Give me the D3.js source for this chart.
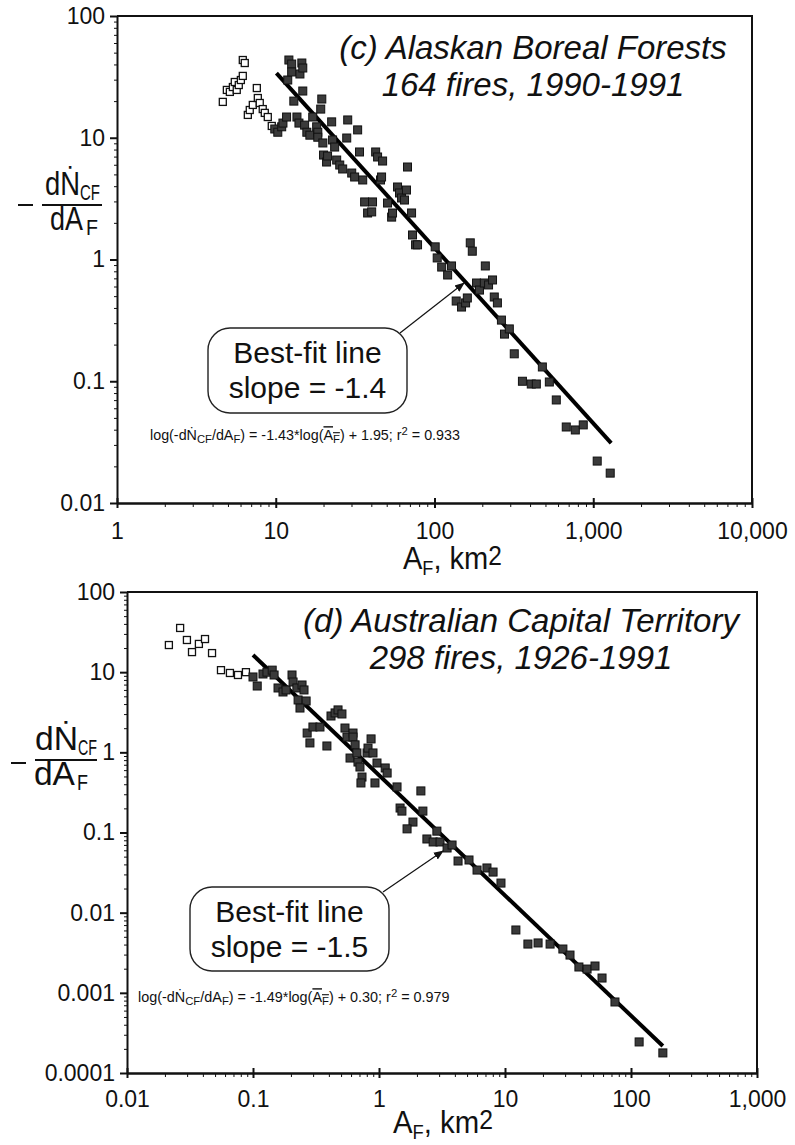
<!DOCTYPE html>
<html>
<head>
<meta charset="utf-8">
<script src="https://cdn.jsdelivr.net/npm/d3@7"></script>
<style>
    body { margin: 0; background: #fff; }
    svg text { font-family: Arial, "Liberation Sans", Helvetica, sans-serif; fill: #111; }
    .axis path, .axis line { stroke: #111; }
</style>
</head>
<body>
<svg id="FigSvg" width="795" height="1145"></svg>
<script>
// ---- panel (c): Alaskan boreal forests ----
var alaskaOpenX = [4.64, 4.92, 5.14, 5.37, 5.52, 5.68, 5.85, 6.03, 6.20, 6.20, 6.38, 6.67, 6.86, 7.17, 7.60, 7.71, 7.93, 8.28, 8.53, 8.91, 9.44]
var alaskaOpenY = [19.7, 24.7, 23.8, 26.1, 28.7, 24.7, 27.1, 29.8, 32.2, 43.5, 41.1, 15.4, 16.9, 18.6, 25.6, 21.2, 19.3, 17.2, 16.0, 14.8, 12.5]
var alaskaFillX = [9.86, 10.3, 10.9, 11.1, 11.7, 11.9, 12.1, 12.6, 12.6, 13.0, 13.6, 14.0, 14.2, 14.6, 14.8, 14.8, 15.2, 15.7, 16.4, 17.1,
    18.1, 18.4, 18.4, 19.2, 19.5, 19.8, 20.0, 20.9, 21.2, 22.5, 22.8, 23.5, 24.2, 25.3, 26.4, 28.0, 28.4, 30.1, 31.4, 32.8,
    33.7, 35.3, 36.3, 37.9, 40.2, 40.7, 42.6, 43.8, 45.7, 46.4, 47.1, 50.6, 53.7, 54.4, 58.5, 60.2, 62.0, 64.7, 66.6, 67.6,
    71.7, 72.7, 76.0, 78.2, 101, 104, 111, 121, 128, 137, 148, 157, 161, 168, 173, 184, 192, 206, 209, 219,
    232, 238, 249, 264, 276, 296, 318, 358, 407, 438, 478, 529, 585, 676, 771, 865, 1059, 1279]
var alaskaFillY = [11.8, 11.1, 12.3, 13.2, 14.8, 29.8, 43.5, 40.3, 34.7, 20.0, 14.8, 13.2, 33.4, 41.1, 37.4, 24.2, 12.7, 11.1, 10.5, 14.8,
    12.3, 11.1, 10.1, 17.2, 20.8, 9.06, 7.21, 6.32, 7.08, 13.5, 9.59, 8.39, 6.56, 5.97, 5.54, 9.95, 14.0, 5.13, 4.76, 11.6,
    7.64, 4.50, 2.97, 2.41, 2.46, 2.97, 7.64, 6.95, 4.50, 4.76, 6.44, 2.91, 2.23, 2.41, 3.94, 3.52, 3.20, 3.08, 3.72, 5.75,
    2.41, 1.59, 1.32, 1.32, 1.27, 1.03, 0.867, 0.746, 0.885, 0.456, 0.407, 0.440, 0.483, 1.37, 1.17, 0.641, 0.561, 0.641, 0.885, 0.618,
    0.679, 0.492, 0.440, 0.318, 0.244, 0.269, 0.168, 0.100, 0.0949, 0.0949, 0.131, 0.0986, 0.0702, 0.0421, 0.0398, 0.0438, 0.0221, 0.0176]
var alaskaFitX = [10.1, 1297]
var alaskaFitY = [34, 0.031]
var alaskaXTicks = [1, 10, 100, 1000, 10000]
var alaskaYTicks = [0.01, 0.1, 1, 10, 100]

// ---- panel (d): Australian Capital Territory ----
var actOpenX = [0.0215, 0.0264, 0.0299, 0.0328, 0.0372, 0.0416, 0.0473, 0.0557, 0.0656, 0.0760, 0.0879]
var actOpenY = [21.8, 35.6, 25.2, 17.8, 22.5, 25.9, 17.3, 10.6, 9.77, 9.22, 10.0]
var actFillX = [0.100, 0.108, 0.120, 0.129, 0.142, 0.147, 0.158, 0.173, 0.183, 0.204, 0.208, 0.223, 0.245, 0.254, 0.228, 0.264, 0.236, 0.269, 0.283, 0.299,
    0.340, 0.386, 0.416, 0.448, 0.473, 0.508, 0.537, 0.557, 0.622, 0.622, 0.589, 0.646, 0.668, 0.681, 0.706, 0.733, 0.719, 0.804, 0.818, 0.865,
    0.896, 0.929, 0.964, 1.12, 1.16, 1.39, 1.47, 1.52, 2.15, 2.23, 1.86, 1.67, 2.88, 2.40, 2.69, 3.05, 3.47, 3.80, 4.24, 5.18,
    6.00, 7.19, 8.04, 9.29, 12.2, 15.2, 18.3, 22.8, 28.8, 32.8, 38.6, 44.8, 51.8, 58.9, 74.6, 116, 179]
var actFillY = [8.71, 6.72, 9.49, 10.0, 10.6, 9.22, 6.35, 5.66, 6.00, 9.22, 7.54, 6.35, 6.92, 6.00, 4.50, 4.37, 3.57, 1.74, 1.31, 2.07,
    2.07, 1.20, 2.84, 3.10, 3.38, 3.01, 2.01, 1.55, 1.74, 1.55, 0.849, 1.24, 0.982, 0.757, 0.656, 0.492, 0.415, 0.982, 1.13, 1.47,
    0.982, 0.415, 0.736, 0.638, 0.552, 0.370, 0.202, 0.185, 0.330, 0.185, 0.135, 0.111, 0.104, 0.0830, 0.0762, 0.0762, 0.0641, 0.0698, 0.0441, 0.0454,
    0.0340, 0.0361, 0.0321, 0.0234, 0.00608, 0.00406, 0.00419, 0.00406, 0.00352, 0.00296, 0.00210, 0.00198, 0.00216, 0.00153, 0.000769, 0.000244, 0.000178]
var actFitX = [0.1, 179]
var actFitY = [16.4, 0.000217]
var actXTicks = [0.01, 0.1, 1, 10, 100, 1000]
var actYTicks = [0.0001, 0.001, 0.01, 0.1, 1, 10, 100]

var FigSvg = d3.select("#FigSvg")

function minorTicks(majors) {
    var out = []
    for (var i = 0; i < majors.length - 1; i++) {
        for (var k = 2; k <= 9; k++) out.push(majors[i] * k)
    }
    return out
}

// squeeze a text drawn at the origin so it spans `len` px starting at (x, y)
function fitText(sel, x, y, len) {
    var w = sel.node().getComputedTextLength()
    sel.attr("transform", `translate(${x},${y}) scale(${(len / w).toFixed(3)},1)`)
    return sel
}

function drawPanel(p) {
    var g = FigSvg.append("g")
    var xScale = d3.scaleLog().domain([p.xTicks[0], p.xTicks[p.xTicks.length - 1]]).range([p.left, p.right])
    var yScale = d3.scaleLog().domain([p.yTicks[0], p.yTicks[p.yTicks.length - 1]]).range([p.bottom, p.top])

    // frame (top + right)
    g.append("path")
        .attr("d", `M${p.left},${p.top}H${p.right}V${p.bottom}`)
        .attr("fill", "none").attr("stroke", "#111").attr("stroke-width", 2)

    // y axis
    g.append("g").attr("class", "axis").attr("transform", `translate(${p.left},0)`)
        .call(d3.axisLeft(yScale).tickValues(minorTicks(p.yTicks)).tickSize(3).tickSizeOuter(0).tickFormat(""))
    var gy = g.append("g").attr("class", "axis").attr("transform", `translate(${p.left},0)`)
        .call(d3.axisLeft(yScale).tickValues(p.yTicks).tickSize(7).tickSizeOuter(0).tickPadding(5).tickFormat(d3.format(",")))
    gy.select(".domain").attr("stroke-width", 2)
    gy.selectAll(".tick line").attr("stroke-width", 2)
    gy.selectAll("text").attr("font-size", 23).attr("fill", "#111")

    // x axis
    g.append("g").attr("class", "axis").attr("transform", `translate(0,${p.bottom})`)
        .call(d3.axisBottom(xScale).tickValues(minorTicks(p.xTicks)).tickSize(4).tickSizeOuter(0).tickFormat(""))
    g.append("g").attr("class", "axis").attr("transform", `translate(0,${p.bottom})`)
        .call(d3.axisTop(xScale).tickValues(p.xTicks).tickSize(5).tickSizeOuter(0).tickFormat(""))
        .selectAll(".tick line").attr("stroke-width", 2)
    var gx = g.append("g").attr("class", "axis").attr("transform", `translate(0,${p.bottom})`)
        .call(d3.axisBottom(xScale).tickValues(p.xTicks).tickSize(5).tickSizeOuter(0).tickPadding(p.xPad).tickFormat(d3.format(",")))
    gx.select(".domain").attr("stroke-width", 2.5)
    gx.selectAll(".tick line").attr("stroke-width", 2)
    gx.selectAll("text").attr("font-size", 23).attr("fill", "#111")

    // best-fit line
    var fit = p.fitX.map((v, i) => [v, p.fitY[i]])
    g.append("path")
        .datum(fit)
        .attr("d", d3.line().x(d => xScale(d[0])).y(d => yScale(d[1])))
        .attr("stroke", "#000").attr("stroke-width", 4).attr("fill", "none")

    // open squares (excluded from fit)
    for (i = 0; i < p.openX.length; i++) {
        g.append("rect")
            .attr("x", xScale(p.openX[i]) - 3.5).attr("y", yScale(p.openY[i]) - 3.5)
            .attr("width", 7).attr("height", 7)
            .attr("fill", "#fff").attr("stroke", "#111").attr("stroke-width", 1.3)
    }
    // filled squares
    for (i = 0; i < p.fillX.length; i++) {
        g.append("rect")
            .attr("x", xScale(p.fillX[i]) - 4).attr("y", yScale(p.fillY[i]) - 4)
            .attr("width", 8).attr("height", 8)
            .attr("fill", "#3a3a3a").attr("stroke", "#111").attr("stroke-width", 1)
    }

    // title
    var t = g.append("text").attr("text-anchor", "middle").attr("font-style", "italic").attr("font-size", 33)
    t.append("tspan").attr("x", p.titleX).attr("y", p.titleY).text(p.title1)
    t.append("tspan").attr("x", p.titleX).attr("y", p.titleY + 37).text(p.title2)

    // y label: - dN_CF / dA_F  (narrow, tall glyphs as in the original)
    var yl = p.ylab
    g.append("line").attr("x1", yl.x0 - 24).attr("x2", yl.x0 - 9).attr("y1", yl.minusY).attr("y2", yl.minusY)
        .attr("stroke", "#111").attr("stroke-width", 2)
    g.append("line").attr("x1", yl.x0).attr("x2", yl.x1).attr("y1", yl.y).attr("y2", yl.y)
        .attr("stroke", "#111").attr("stroke-width", 2)
    var pieces = [
        [yl.numX, yl.y - 10, yl.numLen, 33, "d\u1E44"],
        [yl.cfX, yl.y - 5, yl.cfLen, 22, "CF"],
        [yl.denX, yl.y + 25, yl.denLen, 33, "dA"],
        [yl.fX, yl.y + 30, yl.fLen, 22, "F"]
    ]
    pieces.forEach(pc => {
        fitText(g.append("text").attr("font-size", pc[3]).text(pc[4]), pc[0], pc[1], pc[2])
    })

    // x label: A_F, km2
    var xl = g.append("text").attr("font-size", 32)
    xl.append("tspan").text("A")
    xl.append("tspan").attr("font-size", 20).attr("dy", 6).text("F")
    xl.append("tspan").attr("dy", -6).text(", km")
    xl.append("tspan").attr("font-size", 27).attr("dy", -4).text("2")
    fitText(xl, p.xlabX, p.xlabY, p.xlabLen)

    // annotation box + arrow
    var b = p.box
    g.append("rect").attr("x", b.x).attr("y", b.y).attr("width", b.w).attr("height", b.h)
        .attr("rx", 22).attr("fill", "#fff").attr("stroke", "#222").attr("stroke-width", 1.4)
    var bt = g.append("text").attr("text-anchor", "middle").attr("font-size", 30)
    bt.append("tspan").attr("x", b.x + b.w / 2).attr("y", b.y + 35).text("Best-fit line")
    bt.append("tspan").attr("x", b.x + b.w / 2).attr("y", b.y + 70).text(p.slopeText)
    g.append("line").attr("x1", b.ax0).attr("y1", b.ay0).attr("x2", b.ax1).attr("y2", b.ay1)
        .attr("stroke", "#111").attr("stroke-width", 1.2).attr("marker-end", "url(#arrowHead)")

    // regression equation
    var eq = g.append("text").attr("font-size", 14)
    eq.append("tspan").text("log(-d\u1E44")
    eq.append("tspan").attr("font-size", 11).attr("dy", 3).text("CF")
    eq.append("tspan").attr("dy", -3).text("/dA")
    eq.append("tspan").attr("font-size", 11).attr("dy", 3).text("F")
    eq.append("tspan").attr("dy", -3).text(") = " + p.eqSlope + "*log(")
    eq.append("tspan").attr("text-decoration", "overline").text("A")
    eq.append("tspan").attr("font-size", 11).attr("dy", 3).attr("text-decoration", "overline").text("F")
    eq.append("tspan").attr("dy", -3).text(") + " + p.eqIcpt + "; r")
    eq.append("tspan").attr("font-size", 11).attr("dy", -5).text("2")
    eq.append("tspan").attr("dy", 5).text(" = " + p.eqR2)
    fitText(eq, p.eqX, p.eqY, p.eqLen)
}

FigSvg.append("defs").append("marker")
    .attr("id", "arrowHead").attr("viewBox", "0 0 10 10").attr("refX", 9).attr("refY", 5)
    .attr("markerWidth", 10).attr("markerHeight", 10).attr("markerUnits", "userSpaceOnUse").attr("orient", "auto")
    .append("path").attr("d", "M0,1L10,5L0,9Z").attr("fill", "#111")

drawPanel({
    left: 117, right: 752, top: 16, bottom: 503, xPad: 15,
    xTicks: alaskaXTicks, yTicks: alaskaYTicks,
    openX: alaskaOpenX, openY: alaskaOpenY, fillX: alaskaFillX, fillY: alaskaFillY,
    fitX: alaskaFitX, fitY: alaskaFitY,
    title1: "(c) Alaskan Boreal Forests", title2: "164 fires, 1990-1991", titleX: 533, titleY: 59,
    ylab: { x0: 42, x1: 102, y: 205, minusY: 205, numX: 45, numLen: 35, cfX: 80, cfLen: 20, denX: 50, denLen: 33, fX: 86, fLen: 12 },
    xlabX: 403, xlabY: 569, xlabLen: 99,
    box: { x: 208, y: 328, w: 199, h: 85, ax0: 400, ay0: 333, ax1: 464, ay1: 283 },
    slopeText: "slope = -1.4",
    eqX: 150, eqY: 440, eqLen: 310, eqSlope: "-1.43", eqIcpt: "1.95", eqR2: "0.933"
})

drawPanel({
    left: 127, right: 757, top: 592, bottom: 1073, xPad: 13,
    xTicks: actXTicks, yTicks: actYTicks,
    openX: actOpenX, openY: actOpenY, fillX: actFillX, fillY: actFillY,
    fitX: actFitX, fitY: actFitY,
    title1: "(d) Australian Capital Territory", title2: "298 fires, 1926-1991", titleX: 521, titleY: 632,
    ylab: { x0: 35, x1: 97, y: 760, minusY: 763, numX: 35, numLen: 43, cfX: 78, cfLen: 19, denX: 34, denLen: 41, fX: 77, fLen: 11 },
    xlabX: 393, xlabY: 1133, xlabLen: 100,
    box: { x: 190, y: 887, w: 199, h: 84, ax0: 383, ay0: 892, ax1: 443, ay1: 851 },
    slopeText: "slope = -1.5",
    eqX: 138, eqY: 1002, eqLen: 312, eqSlope: "-1.49", eqIcpt: "0.30", eqR2: "0.979"
})
</script>
</body>
</html>
